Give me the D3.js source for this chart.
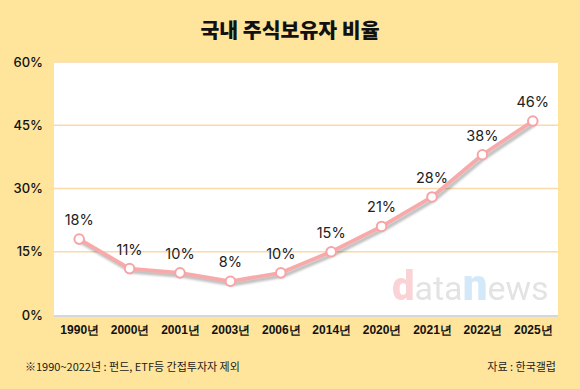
<!DOCTYPE html>
<html>
<head>
<meta charset="utf-8">
<script src="https://cdn.jsdelivr.net/npm/d3@7"></script>
<style>
  body { margin: 0; background: #FFE59B; }
  svg { display: block; font-family: "Noto Sans CJK KR", "Noto Sans", sans-serif; }
</style>
</head>
<body>
<div id="chart"></div>
<script>
const years = ['1990년', '2000년', '2001년', '2003년', '2006년', '2014년', '2020년', '2021년', '2022년', '2025년'];
const shares = [18, 11, 10, 8, 10, 15, 21, 28, 38, 46];
const yTicks = [0, 15, 30, 45, 60];

const width = 580, height = 389;
const margin = { top: 62, right: 22, bottom: 74, left: 54 };

const svg = d3.select('#chart').append('svg')
    .attr('width', width)
    .attr('height', height);

svg.append('rect')
    .attr('width', width).attr('height', height)
    .attr('fill', '#FFE59B');

// 제목
svg.append('text')
    .attr('x', width / 2).attr('y', 38)
    .attr('text-anchor', 'middle')
    .style('font-size', '20.5px').style('font-weight', 900)
    .attr('fill', '#111')
    .text('국내 주식보유자 비율');

const x = d3.scalePoint()
    .domain(years)
    .range([margin.left, width - margin.right])
    .padding(0.5);

const y = d3.scaleLinear()
    .domain([0, 60])
    .range([height - margin.bottom, margin.top]);

// 흰색 플롯 영역
svg.append('rect')
    .attr('x', margin.left).attr('y', margin.top)
    .attr('width', width - margin.left - margin.right)
    .attr('height', height - margin.top - margin.bottom)
    .attr('fill', '#fff');

svg.append('line')
    .attr('x1', margin.left).attr('x2', width - margin.right)
    .attr('y1', y(0) + 1).attr('y2', y(0) + 1)
    .attr('stroke', '#d6d6dc').attr('stroke-width', 2);

// 그리드
svg.append('g').selectAll('line')
    .data(yTicks.filter(d => d > 0))
    .join('line')
    .attr('x1', margin.left).attr('x2', width - margin.right)
    .attr('y1', d => y(d)).attr('y2', d => y(d))
    .attr('stroke', '#FCD9A8').attr('stroke-width', 1.5);

// y축 라벨
const yAxis = svg.append('g')
    .attr('transform', `translate(${margin.left},0)`)
    .call(d3.axisLeft(y).tickValues(yTicks).tickSize(0).tickPadding(11).tickFormat(d => d + '%'));
yAxis.select('.domain').remove();
yAxis.selectAll('text')
    .style('font-family', 'Inter, "Noto Sans", sans-serif')
    .style('font-size', '13px').style('font-weight', 500)
    .attr('fill', '#111');

// x축 라벨
const xAxis = svg.append('g')
    .attr('transform', `translate(0,${y(0)})`)
    .call(d3.axisBottom(x).tickSize(0).tickPadding(10));
xAxis.select('.domain').remove();
xAxis.selectAll('text')
    .style('font-size', '12px').style('font-weight', 700)
    .attr('fill', '#111');

// 워터마크
const wm = svg.append('text')
    .attr('x', 392).attr('y', 300)
    .style('font-family', 'Roboto, "Noto Sans", sans-serif')
    .style('font-size', '40px')
    .attr('opacity', 0.5);
wm.append('tspan').text('d').attr('fill', '#F4A9AC').style('font-weight', 900);
wm.append('tspan').text('ata').attr('fill', '#c8c8c8').style('font-size', '34px');
wm.append('tspan').text('n').attr('fill', '#A9D3F2').style('font-weight', 900).style('font-size', '44px');
wm.append('tspan').text('ews').attr('fill', '#c8c8c8').style('font-size', '34px');

// 선
const line = d3.line()
    .x((d, i) => x(years[i]))
    .y(d => y(d));

svg.append('path')
    .datum(shares)
    .attr('d', line)
    .attr('transform', 'translate(2,3)')
    .attr('fill', 'none')
    .attr('stroke', '#000')
    .attr('stroke-opacity', 0.25)
    .attr('stroke-width', 4)
    .style('filter', 'blur(1.2px)');

svg.append('path')
    .datum(shares)
    .attr('d', line)
    .attr('fill', 'none')
    .attr('stroke', '#F8AAAA')
    .attr('stroke-width', 3.8)
    .attr('stroke-linejoin', 'round');

svg.append('g').selectAll('circle')
    .data(shares)
    .join('circle')
    .attr('cx', (d, i) => x(years[i]))
    .attr('cy', d => y(d))
    .attr('r', 4.8)
    .attr('fill', '#fff')
    .attr('stroke', '#F8A3A6')
    .attr('stroke-width', 2);

// 값 라벨
svg.append('g').selectAll('text')
    .data(shares)
    .join('text')
    .attr('x', (d, i) => x(years[i]))
    .attr('y', d => y(d) - 14)
    .attr('text-anchor', 'middle')
    .style('font-family', 'Inter, "Noto Sans", sans-serif')
    .style('font-size', '14.5px')
    .style('font-weight', 400)
    .attr('fill', '#222')
    .text(d => d + '%');

// 주석
svg.append('text')
    .attr('x', 25).attr('y', 371)
    .style('font-size', '11px')
    .attr('fill', '#222')
    .text('※1990~2022년 : 펀드, ETF등 간접투자자 제외');

svg.append('text')
    .attr('x', 556).attr('y', 371)
    .attr('text-anchor', 'end')
    .style('font-size', '11px')
    .attr('fill', '#222')
    .text('자료 : 한국갤럽');
</script>
</body>
</html>
